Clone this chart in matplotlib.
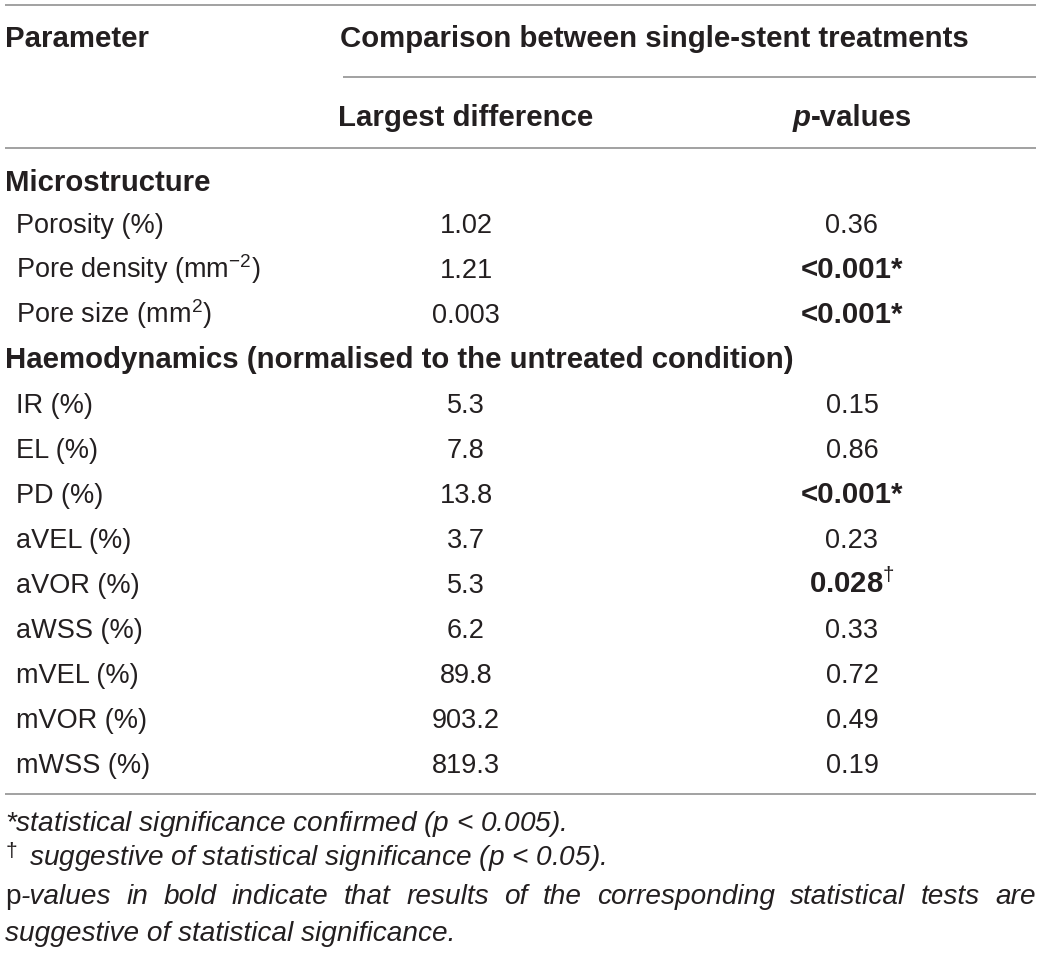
import matplotlib
matplotlib.use('Agg')
import matplotlib.pyplot as plt

# Fontes parecidas com Helvetica
plt.rcParams['font.family'] = ['Liberation Sans', 'DejaVu Sans']
plt.rcParams['mathtext.fontset'] = 'custom'
plt.rcParams['mathtext.rm'] = 'Liberation Sans'
plt.rcParams['mathtext.it'] = 'Liberation Sans:italic'
plt.rcParams['mathtext.bf'] = 'Liberation Sans:bold'

# Dados da tabela
header_param = 'Parameter'
header_group = 'Comparison between single-stent treatments'
header_cols = ['Largest difference', 'p-values']

section_micro = 'Microstructure'
micro_params = ['Porosity (%)', 'Pore density (mm$^{\u22122}$)', 'Pore size (mm$^{2}$)']
micro_diff = ['1.02', '1.21', '0.003']
micro_p = ['0.36', '<0.001*', '<0.001*']
micro_bold = [False, True, True]

section_haemo = 'Haemodynamics (normalised to the untreated condition)'
haemo_params = ['IR (%)', 'EL (%)', 'PD (%)', 'aVEL (%)', 'aVOR (%)', 'aWSS (%)',
                'mVEL (%)', 'mVOR (%)', 'mWSS (%)']
haemo_diff = ['5.3', '7.8', '13.8', '3.7', '5.3', '6.2', '89.8', '903.2', '819.3']
haemo_p = ['0.15', '0.86', '<0.001*', '0.23', '0.028$^{\u2020}$', '0.33', '0.72', '0.49', '0.19']
haemo_bold = [False, False, True, False, True, False, False, False, False]

W, H = 1041, 954
fig = plt.figure(figsize=(W / 100, H / 100), dpi=100)
ax = fig.add_axes([0, 0, 1, 1])
ax.set_xlim(0, W)
ax.set_ylim(H, 0)
ax.axis('off')

txt_color = '#231f20'
line_color = '#9a9a9a'
fs = 19.5
fs_bold = 21.2
fs_note = 20.2
base = 9  # deslocamento do centro para a linha de base

col_diff = 466
col_p = 852
left = 5
right = 1036


def hline(y, x0=left, x1=right):
    ax.plot([x0, x1], [y, y], color=line_color, lw=1.3, solid_capstyle='butt')


def txt(x, y, s, **kw):
    kw.setdefault('color', txt_color)
    kw.setdefault('fontsize', fs)
    return ax.text(x, y + base, s, va='baseline', **kw)


fig.canvas.draw()
renderer = fig.canvas.get_renderer()


def width_of(t):
    return t.get_window_extent(renderer=renderer).width


# Cabeçalho
hline(6)
txt(left, 38, header_param, fontweight='bold', fontsize=fs_bold)
txt(340, 38, header_group, fontweight='bold', fontsize=fs_bold)
hline(78, 343, right)
txt(col_diff, 117, header_cols[0], fontweight='bold', fontsize=fs_bold, ha='center')
# "p" em negrito itálico seguido de "-values"
tp = txt(0, 117, header_cols[1][0], fontweight='bold', fontsize=fs_bold, style='italic')
tv = txt(0, 117, header_cols[1][1:], fontweight='bold', fontsize=fs_bold)
wp, wv = width_of(tp), width_of(tv)
tp.set_x(col_p - (wp + wv) / 2)
tv.set_x(col_p - (wp + wv) / 2 + wp)
hline(149)

# Corpo da tabela
y = 182
txt(left, y, section_micro, fontweight='bold', fontsize=fs_bold)
y = 224
for name, d, p, b in zip(micro_params, micro_diff, micro_p, micro_bold):
    txt(16, y, name)
    txt(col_diff, y, d, ha='center')
    if b:
        txt(col_p, y, p, ha='center', fontweight='bold', fontsize=fs_bold)
    else:
        txt(col_p, y, p, ha='center')
    y += 45
txt(left, y, section_haemo, fontweight='bold', fontsize=fs_bold)
y += 45
for name, d, p, b in zip(haemo_params, haemo_diff, haemo_p, haemo_bold):
    txt(16, y, name)
    txt(col_diff, y, d, ha='center')
    if b:
        txt(col_p, y, p, ha='center', fontweight='bold', fontsize=fs_bold)
    else:
        txt(col_p, y, p, ha='center')
    y += 45

hline(795)

# Notas de rodapé
txt(left, 822, '*statistical significance confirmed ($p$ < 0.005).',
    fontsize=fs_note, style='italic')
txt(left + 1, 848, '\u2020', fontsize=15)
txt(left + 24, 856, 'suggestive of statistical significance ($p$ < 0.05).',
    fontsize=fs_note, style='italic')

# linha justificada
rest = 'in bold indicate that results of the corresponding statistical tests are'.split()
x = left
t = txt(x, 895, 'p', fontsize=fs_note)
x += width_of(t)
t = txt(x, 895, '-values', fontsize=fs_note, style='italic')
x += width_of(t)
word_objs = [txt(0, 895, w, fontsize=fs_note, style='italic') for w in rest]
widths = [width_of(o) for o in word_objs]
gap = (right - x - sum(widths)) / len(rest)
for o, w in zip(word_objs, widths):
    x += gap
    o.set_x(x)
    x += w

txt(left, 932, 'suggestive of statistical significance.', fontsize=fs_note, style='italic')

fig.savefig('out.png', dpi=100)
